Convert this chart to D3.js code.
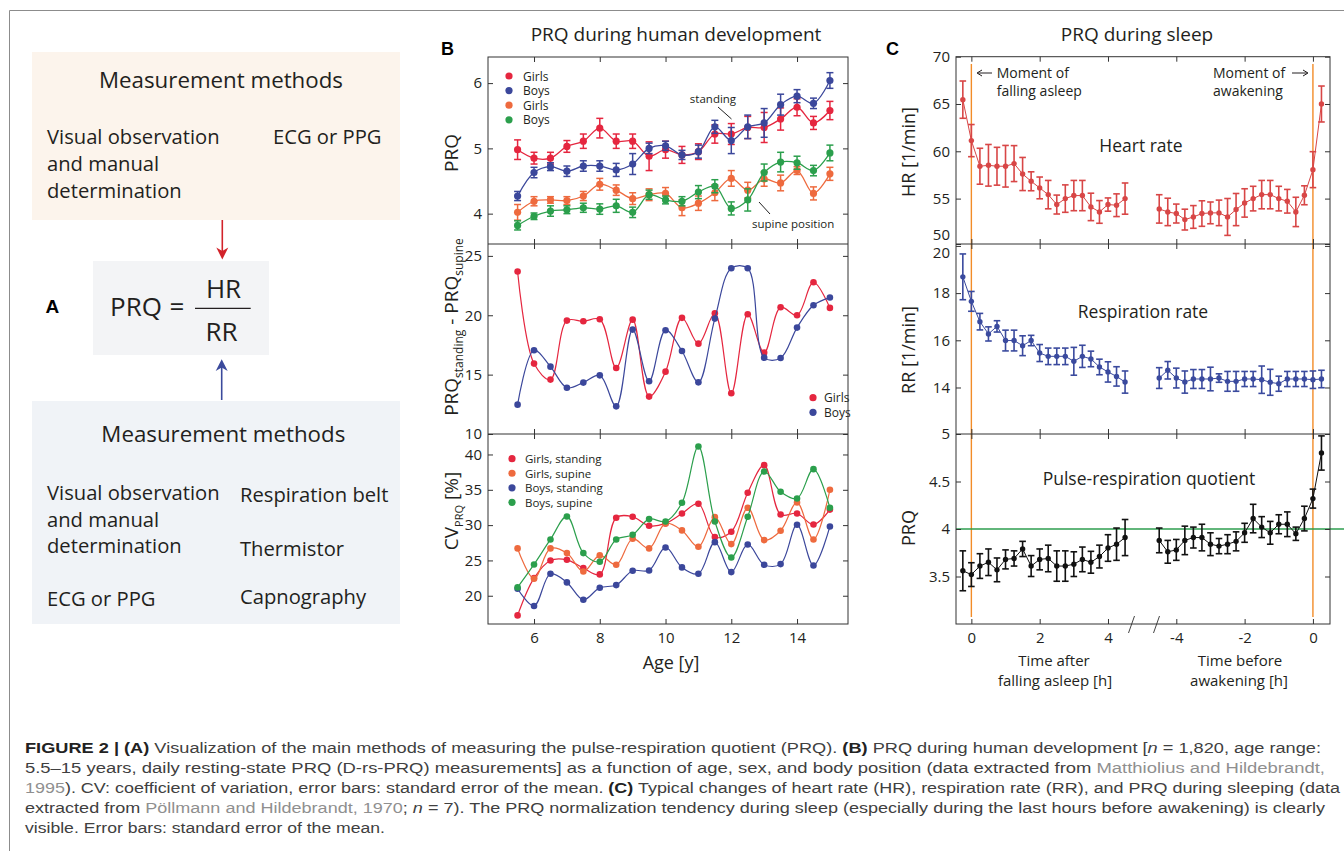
<!DOCTYPE html>
<html><head><meta charset="utf-8">
<script src="https://cdn.jsdelivr.net/npm/d3@7"></script>
<style>body{margin:0;background:#fff}</style>
</head><body>
<svg id="c" width="1344" height="851"></svg>
<script>
// ================= DATA =================
// Panel B
const ages=[5.5,6,6.5,7,7.5,8,8.5,9,9.5,10,10.5,11,11.5,12,12.5,13,13.5,14,14.5,15];
const prqGirlsStanding=[4.98,4.85,4.85,5.03,5.11,5.31,5.11,5.11,4.88,4.98,4.90,4.95,5.22,5.22,5.32,5.32,5.45,5.63,5.39,5.58];
const prqGirlsStandingErr=[0.15,0.09,0.09,0.09,0.11,0.15,0.11,0.11,0.22,0.13,0.13,0.12,0.14,0.16,0.17,0.23,0.17,0.13,0.10,0.14];
const prqBoysStanding=[4.27,4.63,4.72,4.65,4.73,4.73,4.67,4.76,5.00,5.04,4.90,4.95,5.33,5.12,5.33,5.39,5.67,5.80,5.69,6.04];
const prqBoysStandingErr=[0.07,0.08,0.06,0.08,0.08,0.08,0.10,0.16,0.08,0.07,0.07,0.10,0.10,0.20,0.18,0.22,0.16,0.10,0.08,0.12];
const prqGirlsSupine=[4.02,4.19,4.21,4.20,4.27,4.45,4.36,4.23,4.29,4.31,4.09,4.16,4.32,4.54,4.36,4.53,4.47,4.66,4.31,4.61];
const prqGirlsSupineErr=[0.12,0.07,0.05,0.06,0.07,0.09,0.08,0.09,0.09,0.09,0.12,0.11,0.12,0.12,0.12,0.11,0.12,0.06,0.10,0.10];
const prqBoysSupine=[3.82,3.96,4.04,4.06,4.09,4.07,4.12,4.02,4.29,4.21,4.19,4.33,4.42,4.08,4.21,4.63,4.79,4.78,4.66,4.93];
const prqBoysSupineErr=[0.07,0.05,0.08,0.06,0.07,0.08,0.10,0.08,0.07,0.06,0.07,0.10,0.10,0.10,0.17,0.13,0.15,0.10,0.08,0.12];

const diffGirls=[23.68,15.93,14.58,19.55,19.49,19.66,15.56,19.63,13.15,15.25,19.78,17.61,20.17,13.43,20.08,16.85,20.67,20.0,22.78,20.62];
const diffBoys=[12.47,17.05,15.67,13.9,14.33,14.94,12.33,18.79,14.44,18.74,16.99,14.35,19.72,23.96,23.96,16.43,16.40,18.96,20.84,21.49];

const cvGirlsStanding=[17.22,22.5,25.0,25.09,23.92,23.02,31.04,31.18,29.9,30.24,31.65,33.02,28.3,29.06,34.58,38.49,31.5,31.65,30.09,32.2];
const cvGirlsSupine=[26.7,22.4,26.7,26.04,23.44,25.71,24.39,28.07,26.7,30.24,29.25,26.93,31.13,27.31,32.45,27.88,29.2,33.2,27.97,35.0];
const cvBoysStanding=[20.99,18.54,23.11,21.89,19.43,21.13,21.51,23.54,23.58,26.84,24.01,23.11,27.59,23.35,27.26,24.39,24.48,30.05,24.29,29.81];
const cvBoysSupine=[21.18,24.43,27.97,31.23,26.04,24.81,27.97,28.63,30.85,30.52,33.16,41.13,30.52,25.42,31.18,37.59,34.72,33.77,37.92,32.45];

const bXTicks=[6,8,10,12,14];
const bY1Ticks=[4,5,6];
const bY2Ticks=[10,15,20,25];
const bY3Ticks=[20,25,30,35,40];

// Panel C
const timeAfter=[-0.25,0,0.25,0.5,0.75,1,1.25,1.5,1.75,2,2.25,2.5,2.75,3,3.25,3.5,3.75,4,4.25,4.5];
const timeBefore=[-4.5,-4.25,-4,-3.75,-3.5,-3.25,-3,-2.75,-2.5,-2.25,-2,-1.75,-1.5,-1.25,-1,-0.75,-0.5,-0.25,0,0.25];
const hrAfter=[65.46,61.13,58.42,58.52,58.42,58.42,58.7,57.6,56.83,56.13,55.42,54.37,55.0,55.32,55.32,54.12,53.59,54.37,54.3,55.0];
const hrAfterErr=[1.97,1.7,1.9,2.2,2.0,2.2,1.9,1.75,1.0,1.15,1.5,1.0,1.45,1.6,1.6,1.45,1.2,0.7,1.2,1.65];
const hrBefore=[53.91,53.59,53.42,52.78,53.06,53.42,53.49,53.49,53.06,53.84,54.54,55.0,55.42,55.42,55.0,54.72,53.59,55.35,58.06,65.0];
const hrBeforeErr=[1.5,1.45,1.0,1.1,1.2,1.35,1.15,1.35,1.95,1.7,1.5,1.3,1.5,1.5,1.3,1.25,1.55,1.0,1.9,1.9];
const rrAfter=[18.69,17.65,16.79,16.27,16.59,15.99,15.99,15.77,15.99,15.46,15.32,15.32,15.32,15.11,15.32,15.21,14.87,14.66,14.47,14.23];
const rrAfterErr=[0.97,0.42,0.35,0.3,0.24,0.44,0.44,0.42,0.22,0.36,0.35,0.35,0.35,0.59,0.47,0.33,0.33,0.43,0.41,0.47];
const rrBefore=[14.4,14.73,14.4,14.23,14.36,14.36,14.36,14.4,14.26,14.26,14.36,14.36,14.33,14.22,14.16,14.36,14.36,14.36,14.33,14.36];
const rrBeforeErr=[0.44,0.37,0.42,0.47,0.4,0.4,0.5,0.18,0.42,0.42,0.32,0.32,0.58,0.55,0.32,0.32,0.32,0.32,0.37,0.37];
const prqAfter=[3.56,3.52,3.61,3.65,3.57,3.68,3.69,3.79,3.61,3.68,3.69,3.61,3.61,3.63,3.68,3.65,3.71,3.8,3.84,3.91];
const prqAfterErr=[0.21,0.125,0.13,0.14,0.125,0.1,0.08,0.08,0.11,0.11,0.14,0.16,0.16,0.13,0.13,0.115,0.12,0.14,0.17,0.19];
const prqBefore=[3.88,3.76,3.78,3.88,3.91,3.91,3.84,3.82,3.84,3.87,3.96,4.11,4.02,3.96,4.05,4.05,3.95,4.11,4.32,4.80];
const prqBeforeErr=[0.13,0.12,0.11,0.15,0.11,0.14,0.12,0.08,0.1,0.1,0.1,0.15,0.11,0.12,0.1,0.13,0.07,0.13,0.1,0.18];
const cXTickPos=[0,2,4,6,8,10];
const cXTickLabels=['0','2','4','-4','-2','0'];
const cY1Ticks=[50,55,60,65,70];
const cY2Ticks=[14,16,18,20];
const cY3Ticks=[3.5,4,4.5,5];
const prqReference=4;

// ================= DRAWING =================
const FONT="'Open Sans','Noto Sans',sans-serif";
const INK="#231f20";
const svg=d3.select('#c');
svg.append('rect').attr('width',1344).attr('height',851).attr('fill','#fff');
// outer border
svg.append('path').attr('d','M9.5,851V10.5H1344').attr('fill','none').attr('stroke','#8c8c8c').attr('stroke-width',1);

function txt(g,x,y,s,size,opt={}){
  const t=g.append('text').attr('x',x).attr('y',y).text(s)
    .attr('font-family',opt.family||FONT).attr('font-size',size)
    .attr('fill',opt.fill||INK).attr('text-anchor',opt.anchor||'start');
  if(opt.weight) t.attr('font-weight',opt.weight);
  return t;
}

// ---------- Panel A ----------
const A=svg.append('g');
const aBody=20.2, aHead=22.3;
A.append('rect').attr('x',32).attr('y',52).attr('width',368).attr('height',168).attr('fill','#fcf4ec');
txt(A,221,88,'Measurement methods',aHead,{anchor:'middle'});
txt(A,47,144,'Visual observation',aBody);
txt(A,47,170.7,'and manual',aBody);
txt(A,47,198,'determination',aBody);
txt(A,273,144,'ECG or PPG',aBody);
// red arrow
A.append('line').attr('x1',222.3).attr('x2',222.3).attr('y1',220).attr('y2',252).attr('stroke','#d2232a').attr('stroke-width',1.6);
A.append('path').attr('d','M216.3,247.5L222.3,259.5L228.3,247.5L222.3,251Z').attr('fill','#d2232a');
A.append('rect').attr('x',93).attr('y',261).attr('width',176).attr('height',94).attr('fill','#f3f4f6');
txt(A,45.5,312.7,'A',19,{weight:'bold',family:"'Liberation Sans',Arial,sans-serif",fill:'#000'});
txt(A,110,316,'PRQ',26);
txt(A,169.5,316,'=',26);
txt(A,223.5,297.7,'HR',26,{anchor:'middle'});
txt(A,221.5,340.7,'RR',26,{anchor:'middle'});
A.append('line').attr('x1',195).attr('x2',250.7).attr('y1',308.3).attr('y2',308.3).attr('stroke',INK).attr('stroke-width',1.3);
// blue arrow
A.append('line').attr('x1',221.7).attr('x2',221.7).attr('y1',400).attr('y2',366).attr('stroke','#3b4a9c').attr('stroke-width',1.6);
A.append('path').attr('d','M215.7,371L221.7,359.3L227.7,371L221.7,367.5Z').attr('fill','#3b4a9c');
A.append('rect').attr('x',32).attr('y',401).attr('width',368).attr('height',223).attr('fill','#f0f3f7');
txt(A,223.3,441.7,'Measurement methods',aHead,{anchor:'middle'});
txt(A,47,500,'Visual observation',aBody);
txt(A,47,526.7,'and manual',aBody);
txt(A,47,553.3,'determination',aBody);
txt(A,47,605.7,'ECG or PPG',aBody);
txt(A,240,501.7,'Respiration belt',aBody);
txt(A,240,555.7,'Thermistor',aBody);
txt(A,240,604.3,'Capnography',aBody);

// ---------- helpers ----------
function styleAxis(g,size){
  g.select('.domain').remove();
  g.selectAll('.tick line').attr('stroke','#333').attr('stroke-width',1);
  g.selectAll('.tick text').attr('font-family',FONT).attr('font-size',size||15).attr('fill',INK);
}
function frame(g,x0,y0,x1,y1){
  g.append('rect').attr('x',x0).attr('y',y0).attr('width',x1-x0).attr('height',y1-y0)
   .attr('fill','none').attr('stroke','#333').attr('stroke-width',1);
}
const yFmt=d3.format('~g');
function axes(g,x,y,xTicks,yTicks,top,bottom,left,right,showX,xFmt){
  g.append('g').attr('transform',`translate(0,${bottom})`)
    .call(d3.axisBottom(x).tickValues(xTicks).tickSize(-5).tickPadding(8).tickFormat(showX?xFmt:()=>''))
    .call(a=>styleAxis(a));
  g.append('g').attr('transform',`translate(0,${top})`)
    .call(d3.axisTop(x).tickValues(xTicks).tickSize(-5).tickFormat(()=>''))
    .call(a=>styleAxis(a));
  const la=g.append('g').attr('transform',`translate(${left},0)`)
    .call(d3.axisLeft(y).tickValues(yTicks).tickSize(-5).tickPadding(6).tickFormat(yFmt))
    .call(a=>styleAxis(a));
  g.append('g').attr('transform',`translate(${right},0)`)
    .call(d3.axisRight(y).tickValues(yTicks).tickSize(-5).tickFormat(()=>''))
    .call(a=>styleAxis(a));
  return la;
}
function series(g,x,y,xs,ys,errs,color,o){
  const pts=xs.map((v,i)=>[v,ys[i],errs?errs[i]:0]);
  const line=d3.line().x(d=>x(d[0])).y(d=>y(d[1])).curve(o.curve||d3.curveLinear);
  g.append('path').attr('d',line(pts)).attr('fill','none').attr('stroke',color).attr('stroke-width',o.lw||1.2);
  if(errs){
    const eg=g.append('g').attr('stroke',color).attr('stroke-width',o.ew||1.5);
    pts.forEach(d=>{
      const cx=x(d[0]),y0=y(d[1]-d[2]),y1=y(d[1]+d[2]);
      eg.append('line').attr('x1',cx).attr('x2',cx).attr('y1',y0).attr('y2',y1);
      eg.append('line').attr('x1',cx-o.cap).attr('x2',cx+o.cap).attr('y1',y0).attr('y2',y0);
      eg.append('line').attr('x1',cx-o.cap).attr('x2',cx+o.cap).attr('y1',y1).attr('y2',y1);
    });
  }
  g.selectAll(null).data(pts).enter().append('circle')
    .attr('cx',d=>x(d[0])).attr('cy',d=>y(d[1])).attr('r',o.r||3.5).attr('fill',color);
}

// ---------- Panel B ----------
const B=svg.append('g');
const cRed='#e5263f', cBlue='#3b479b', cOrange='#ee6a3e', cGreen='#2b9f4c';
txt(B,441,55,'B',18,{weight:'bold',family:"'Liberation Sans',Arial,sans-serif",fill:'#000'});
txt(B,676,41,'PRQ during human development',19,{anchor:'middle'});
const bL=488,bR=848;
const xB=d3.scaleLinear().domain([4.6,15.55]).range([bL,bR]);
const yB1=d3.scaleLinear().domain([3.535,6.4]).range([244,57]);
const yB2=d3.scaleLinear().domain([10,26]).range([434,244]);
const yB3=d3.scaleLinear().domain([16,42.9]).range([624,434]);
const catm=d3.curveCatmullRom.alpha(0.5);

const b1=B.append('g');
series(b1,xB,yB1,ages,prqGirlsStanding,prqGirlsStandingErr,cRed,{curve:catm,cap:3.5,r:3.6,lw:1.3});
series(b1,xB,yB1,ages,prqBoysStanding,prqBoysStandingErr,cBlue,{curve:catm,cap:3.5,r:3.6,lw:1.3});
series(b1,xB,yB1,ages,prqGirlsSupine,prqGirlsSupineErr,cOrange,{curve:catm,cap:3.5,r:3.6,lw:1.3});
series(b1,xB,yB1,ages,prqBoysSupine,prqBoysSupineErr,cGreen,{curve:catm,cap:3.5,r:3.6,lw:1.3});
axes(b1,xB,yB1,bXTicks,bY1Ticks,57,244,bL,bR,false);
[['Girls',cRed],['Boys',cBlue],['Girls',cOrange],['Boys',cGreen]].forEach((d,i)=>{
  b1.append('circle').attr('cx',509).attr('cy',76+i*14.6).attr('r',3.6).attr('fill',d[1]);
  txt(b1,523,80.5+i*14.6,d[0],12);
});
txt(b1,713,103,'standing',11.5,{anchor:'middle'});
b1.append('line').attr('x1',718).attr('y1',107).attr('x2',731.5).attr('y2',119).attr('stroke','#222').attr('stroke-width',1);
txt(b1,752,228,'supine position',11.5);
b1.append('line').attr('x1',759).attr('y1',202).attr('x2',770).attr('y2',214).attr('stroke','#222').attr('stroke-width',1);
txt(b1,0,0,'PRQ',19).attr('transform','translate(458,153) rotate(-90)').attr('text-anchor','middle');

const b2=B.append('g');
series(b2,xB,yB2,ages,diffGirls,null,cRed,{curve:catm,r:3.3,lw:1.2});
series(b2,xB,yB2,ages,diffBoys,null,cBlue,{curve:catm,r:3.3,lw:1.2});
axes(b2,xB,yB2,bXTicks,bY2Ticks,244,434,bL,bR,false);
[['Girls',cRed],['Boys',cBlue]].forEach((d,i)=>{
  b2.append('circle').attr('cx',813).attr('cy',397.7+i*14.6).attr('r',3.6).attr('fill',d[1]);
  txt(b2,824,402.2+i*14.6,d[0],12);
});
const yl2=b2.append('text').attr('transform','translate(458,327) rotate(-90)').attr('text-anchor','middle')
  .attr('font-family',FONT).attr('font-size',19).attr('fill',INK);
yl2.append('tspan').text('PRQ');
yl2.append('tspan').text('standing').attr('font-size',12).attr('dy',5);
yl2.append('tspan').text(' - PRQ').attr('dy',-5);
yl2.append('tspan').text('supine').attr('font-size',12).attr('dy',5);

const b3=B.append('g');
series(b3,xB,yB3,ages,cvGirlsStanding,null,cRed,{curve:catm,r:3.3,lw:1.2});
series(b3,xB,yB3,ages,cvGirlsSupine,null,cOrange,{curve:catm,r:3.3,lw:1.2});
series(b3,xB,yB3,ages,cvBoysStanding,null,cBlue,{curve:catm,r:3.3,lw:1.2});
series(b3,xB,yB3,ages,cvBoysSupine,null,cGreen,{curve:catm,r:3.3,lw:1.2});
axes(b3,xB,yB3,bXTicks,bY3Ticks,434,624,bL,bR,true,d3.format('d'));
[['Girls, standing',cRed],['Girls, supine',cOrange],['Boys, standing',cBlue],['Boys, supine',cGreen]].forEach((d,i)=>{
  b3.append('circle').attr('cx',512).attr('cy',458.7+i*14.55).attr('r',3.6).attr('fill',d[1]);
  txt(b3,525,463.2+i*14.55,d[0],11.5);
});
const yl3=b3.append('text').attr('transform','translate(458,511) rotate(-90)').attr('text-anchor','middle')
  .attr('font-family',FONT).attr('font-size',19).attr('fill',INK);
yl3.append('tspan').text('CV');
yl3.append('tspan').text('PRQ').attr('font-size',11).attr('dy',5);
yl3.append('tspan').text(' [%]').attr('dy',-5);
txt(b3,671,669,'Age [y]',18,{anchor:'middle'});
frame(B,bL,57,bR,624);
B.append('line').attr('x1',bL).attr('x2',bR).attr('y1',244).attr('y2',244).attr('stroke','#333');
B.append('line').attr('x1',bL).attr('x2',bR).attr('y1',434).attr('y2',434).attr('stroke','#333');

// ---------- Panel C ----------
const C=svg.append('g');
txt(C,886,55,'C',18,{weight:'bold',family:"'Liberation Sans',Arial,sans-serif",fill:'#000'});
txt(C,1137,41,'PRQ during sleep',19,{anchor:'middle'});
const cL=956,cR=1330;
const breakShift=10; // "before awakening" segment sits 10 h to the right on the broken axis
const xC=d3.scaleLinear().domain([-0.45,10.5]).range([cL,cR]);
const yC1=d3.scaleLinear().domain([50.2,70]).range([244,56.7]).clamp(true);
const yC2=d3.scaleLinear().domain([12.05,20.06]).range([433.5,244.5]).clamp(true);
const yC3=d3.scaleLinear().domain([3,5]).range([624,434]);
const cHR='#d84646', cRR='#3a4a9e', cPRQ='#111';
const oC={cap:3.3,r:2.7,lw:1,ew:1.6};

// orange event lines
[0,breakShift].forEach(p=>C.append('line').attr('x1',xC(p)).attr('x2',xC(p)).attr('y1',64).attr('y2',617)
  .attr('stroke','#f28c28').attr('stroke-width',1.4));
// green reference line
C.append('line').attr('x1',cL).attr('x2',1344).attr('y1',yC3(prqReference)).attr('y2',yC3(prqReference))
  .attr('stroke','#2e9e4f').attr('stroke-width',1.3);

const c1=C.append('g');
series(c1,xC,yC1,timeAfter,hrAfter,hrAfterErr,cHR,oC);
series(c1,xC,yC1,timeBefore.map(t=>t+breakShift),hrBefore,hrBeforeErr,cHR,oC);
const la1=axes(c1,xC,yC1,cXTickPos,cY1Ticks,56.7,244,cL,cR,false);
la1.selectAll('.tick text').filter(d=>d===50).attr('transform','translate(0,-9)');
txt(c1,1141,152,'Heart rate',17.5,{anchor:'middle'});
txt(c1,996.7,78,'Moment of',14);
txt(c1,996.7,96,'falling asleep',14);
c1.append('line').attr('x1',978).attr('x2',992).attr('y1',73).attr('y2',73).attr('stroke',INK).attr('stroke-width',1);
c1.append('path').attr('d','M982,70L977,73L982,76').attr('fill','none').attr('stroke',INK).attr('stroke-width',1);
txt(c1,1213,78,'Moment of',14);
txt(c1,1213,96,'awakening',14);
c1.append('line').attr('x1',1292).attr('x2',1307).attr('y1',73).attr('y2',73).attr('stroke',INK).attr('stroke-width',1);
c1.append('path').attr('d','M1303,70L1308,73L1303,76').attr('fill','none').attr('stroke',INK).attr('stroke-width',1);
txt(c1,0,0,'HR [1/min]',18).attr('transform','translate(915,152) rotate(-90)').attr('text-anchor','middle');

const c2=C.append('g');
series(c2,xC,yC2,timeAfter,rrAfter,rrAfterErr,cRR,oC);
series(c2,xC,yC2,timeBefore.map(t=>t+breakShift),rrBefore,rrBeforeErr,cRR,oC);
const la2=axes(c2,xC,yC2,cXTickPos,cY2Ticks,244,434,cL,cR,false);
la2.selectAll('.tick text').filter(d=>d===20).attr('transform','translate(0,7)');
txt(c2,1143,318,'Respiration rate',17.5,{anchor:'middle'});
txt(c2,0,0,'RR [1/min]',18).attr('transform','translate(915,350) rotate(-90)').attr('text-anchor','middle');

const c3=C.append('g');
series(c3,xC,yC3,timeAfter,prqAfter,prqAfterErr,cPRQ,oC);
series(c3,xC,yC3,timeBefore.map(t=>t+breakShift),prqBefore,prqBeforeErr,cPRQ,oC);
axes(c3,xC,yC3,cXTickPos,cY3Ticks,434,624,cL,cR,true,(d,i)=>cXTickLabels[i]);
txt(c3,1149,485,'Pulse-respiration quotient',17.5,{anchor:'middle'});
txt(c3,0,0,'PRQ',18).attr('transform','translate(915,528) rotate(-90)').attr('text-anchor','middle');
txt(c3,1054,666,'Time after',15,{anchor:'middle'});
txt(c3,1055,686,'falling asleep [h]',15,{anchor:'middle'});
txt(c3,1240,666,'Time before',15,{anchor:'middle'});
txt(c3,1239,686,'awakening [h]',15,{anchor:'middle'});
// axis break marks
[[1128.5,1134.5],[1153.5,1159.5]].forEach(s=>C.append('line').attr('x1',s[0]).attr('y1',633).attr('x2',s[1]).attr('y2',616)
  .attr('stroke','#444').attr('stroke-width',1));
frame(C,cL,56.7,cR,624);
C.append('line').attr('x1',cL).attr('x2',cR).attr('y1',244).attr('y2',244).attr('stroke','#333');
C.append('line').attr('x1',cL).attr('x2',cR).attr('y1',434).attr('y2',434).attr('stroke','#333');

// ---------- Caption ----------
const CAPF="'Liberation Sans',Arial,sans-serif";
const capLines=[
  [[ 'FIGURE 2 | (A)','b'],[' Visualization of the main methods of measuring the pulse-respiration quotient (PRQ). ',''],['(B)','b'],[' PRQ during human development [',''],['n','i'],[' = 1,820, age range:','']],
  [['5.5–15 years, daily resting-state PRQ (D-rs-PRQ) measurements] as a function of age, sex, and body position (data extracted from ',''],['Matthiolius and Hildebrandt,','l']],
  [['1995','l'],['). CV: coefficient of variation, error bars: standard error of the mean. ',''],['(C)','b'],[' Typical changes of heart rate (HR), respiration rate (RR), and PRQ during sleeping (data','']],
  [['extracted from ',''],['Pöllmann and Hildebrandt, 1970','l'],['; ',''],['n','i'],[' = 7). The PRQ normalization tendency during sleep (especially during the last hours before awakening) is clearly','']],
  [['visible. Error bars: standard error of the mean.','']]
];
const capLens=[1296,1300,1315,1300,360];
capLines.forEach((ln,i)=>{
  const t=svg.append('text').attr('x',25).attr('y',753+i*20).attr('font-family',CAPF).attr('font-size',15.5).attr('fill','#404040')
    .attr('textLength',capLens[i]).attr('lengthAdjust','spacingAndGlyphs');
  ln.forEach(p=>{
    const ts=t.append('tspan').text(p[0]);
    if(p[1]==='b'){ts.attr('font-weight','bold').attr('fill','#222');}
    if(p[1]==='i'){ts.attr('font-style','italic');}
    if(p[1]==='l'){ts.attr('fill','#8f8f8f');}
  });
});
</script>
</body></html>
